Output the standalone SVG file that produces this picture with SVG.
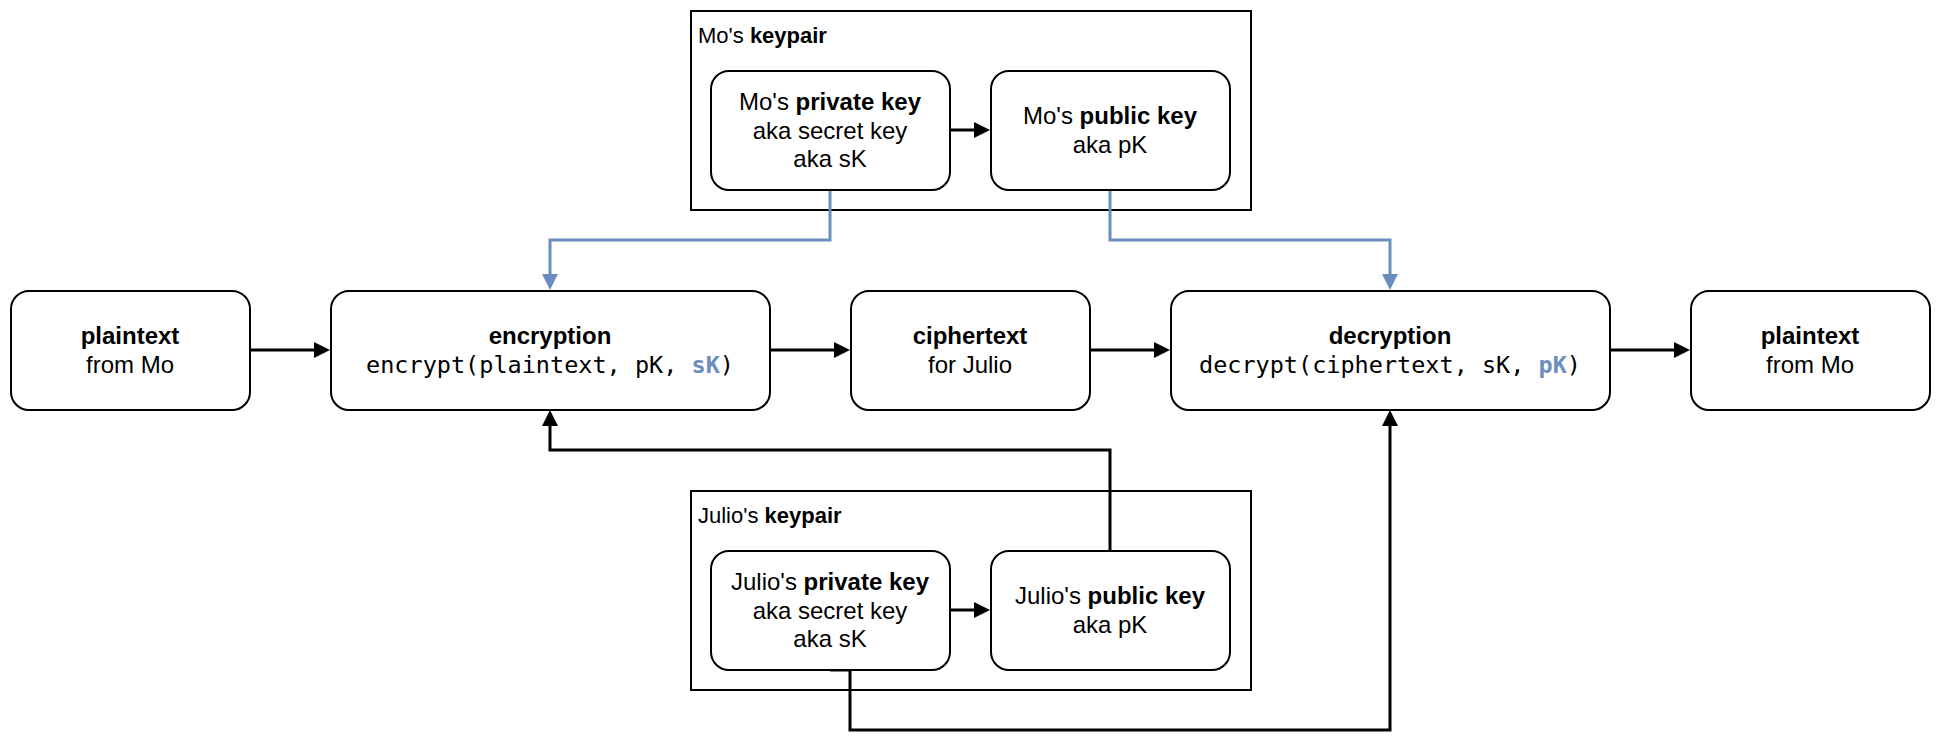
<svg xmlns="http://www.w3.org/2000/svg" width="1942" height="756" viewBox="0 0 1942 756">
<style>
.box{fill:#fff;stroke:#000;stroke-width:2}
.cont{fill:#fff;stroke:#000;stroke-width:2}
.t{font-family:"Liberation Sans",Arial,Helvetica,sans-serif;font-size:24px;fill:#000;text-anchor:middle}
.tl{font-family:"Liberation Sans",Arial,Helvetica,sans-serif;font-size:22px;fill:#000}
.m{font-family:"DejaVu Sans Mono","Liberation Mono",monospace;font-size:23.5px;fill:#000;text-anchor:middle}
.b{font-weight:bold}
.blue{fill:#6C8EBF;font-weight:bold}
.c{fill:none;stroke:#000;stroke-width:3}
.cb{fill:none;stroke:#6C8EBF;stroke-width:3}
</style>
<defs>
<marker id="ah" markerUnits="userSpaceOnUse" markerWidth="17" markerHeight="17" refX="1" refY="8" orient="auto" viewBox="0 0 17 17">
<path d="M0,0 L16,8 L0,16 z" fill="#000"/>
</marker>
<marker id="ahb" markerUnits="userSpaceOnUse" markerWidth="17" markerHeight="17" refX="1" refY="8" orient="auto" viewBox="0 0 17 17">
<path d="M0,0 L16,8 L0,16 z" fill="#6C8EBF"/>
</marker>
</defs>
<rect width="1942" height="756" fill="#fff"/>

<g id="mo-keypair">
<rect class="cont" x="691" y="11" width="560" height="199"/>
<text class="tl" x="698" y="43">Mo's <tspan class="b">keypair</tspan></text>
</g>
<g id="julio-keypair">
<rect class="cont" x="691" y="491" width="560" height="199"/>
<text class="tl" x="698" y="523">Julio's <tspan class="b">keypair</tspan></text>
</g>

<g id="connectors">
<path class="c" d="M250,350 H315" marker-end="url(#ah)"/>
<path class="c" d="M770,350 H835" marker-end="url(#ah)"/>
<path class="c" d="M1090,350 H1155" marker-end="url(#ah)"/>
<path class="c" d="M1610,350 H1675" marker-end="url(#ah)"/>
<path class="c" d="M950,130 H975" marker-end="url(#ah)"/>
<path class="c" d="M950,610 H975" marker-end="url(#ah)"/>
<path class="cb" d="M830,190 V240 H550 V275" marker-end="url(#ahb)"/>
<path class="cb" d="M1110,190 V240 H1390 V275" marker-end="url(#ahb)"/>
<path class="c" d="M1110,550 V450 H550 V425" marker-end="url(#ah)"/>
<path class="c" d="M830,670 H850 V730 H1390 V425" marker-end="url(#ah)"/>
</g>

<g id="mo-private-key">
<rect class="box" x="711" y="71" width="239" height="119" rx="18"/>
<text class="t" x="830" y="110">Mo's <tspan class="b">private key</tspan></text>
<text class="t" x="830" y="138.5">aka secret key</text>
<text class="t" x="830" y="167">aka sK</text>
</g>
<g id="mo-public-key">
<rect class="box" x="991" y="71" width="239" height="119" rx="18"/>
<text class="t" x="1110" y="124">Mo's <tspan class="b">public key</tspan></text>
<text class="t" x="1110" y="153">aka pK</text>
</g>

<g id="plaintext-in">
<rect class="box" x="11" y="291" width="239" height="119" rx="18"/>
<text class="t b" x="130" y="344">plaintext</text>
<text class="t" x="130" y="373">from Mo</text>
</g>
<g id="encryption">
<rect class="box" x="331" y="291" width="439" height="119" rx="18"/>
<text class="t b" x="550" y="344">encryption</text>
<text class="m" x="550" y="373">encrypt(plaintext, pK, <tspan class="blue">sK</tspan>)</text>
</g>
<g id="ciphertext">
<rect class="box" x="851" y="291" width="239" height="119" rx="18"/>
<text class="t b" x="970" y="344">ciphertext</text>
<text class="t" x="970" y="373">for Julio</text>
</g>
<g id="decryption">
<rect class="box" x="1171" y="291" width="439" height="119" rx="18"/>
<text class="t b" x="1390" y="344">decryption</text>
<text class="m" x="1390" y="373">decrypt(ciphertext, sK, <tspan class="blue">pK</tspan>)</text>
</g>
<g id="plaintext-out">
<rect class="box" x="1691" y="291" width="239" height="119" rx="18"/>
<text class="t b" x="1810" y="344">plaintext</text>
<text class="t" x="1810" y="373">from Mo</text>
</g>

<g id="julio-private-key">
<rect class="box" x="711" y="551" width="239" height="119" rx="18"/>
<text class="t" x="830" y="590">Julio's <tspan class="b">private key</tspan></text>
<text class="t" x="830" y="618.5">aka secret key</text>
<text class="t" x="830" y="647">aka sK</text>
</g>
<g id="julio-public-key">
<rect class="box" x="991" y="551" width="239" height="119" rx="18"/>
<text class="t" x="1110" y="604">Julio's <tspan class="b">public key</tspan></text>
<text class="t" x="1110" y="633">aka pK</text>
</g>
</svg>
